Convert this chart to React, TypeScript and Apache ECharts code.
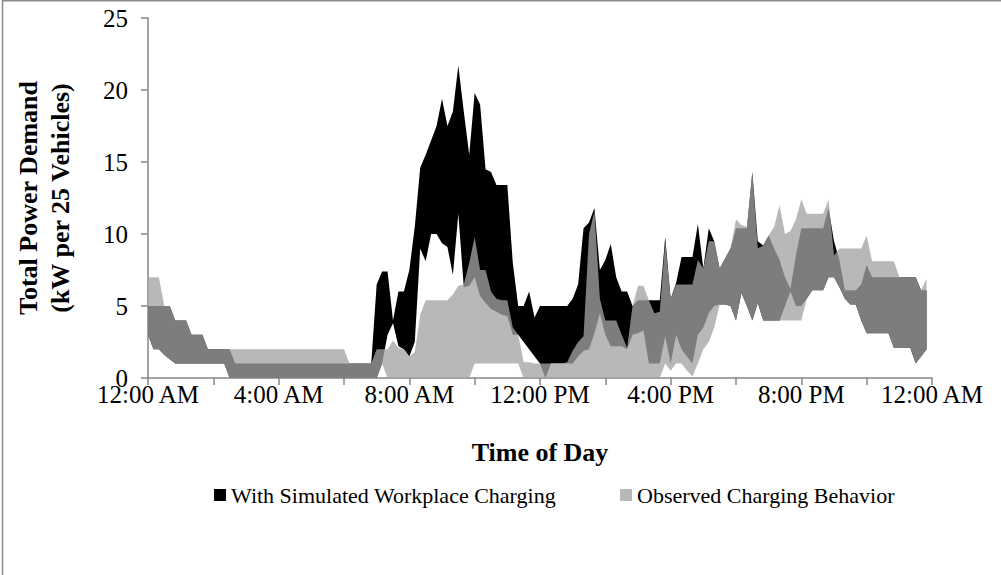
import React, { useEffect, useRef } from "react";
import * as echarts from "echarts";

// 10-minute steps from 12:00 AM to 12:00 AM (145 categories)
const xTickLabels = ["12:00 AM", "4:00 AM", "8:00 AM", "12:00 PM", "4:00 PM", "8:00 PM", "12:00 AM"];

const workLow = [
  3, 2, 2, 1.6, 1.3, 1, 1, 1, 1, 1,
  1, 1, 1, 1, 1, 0, 0, 0, 0, 0,
  0, 0, 0, 0, 0, 0, 0, 0, 0, 0,
  0, 0, 0, 0, 0, 0, 0, 0, 0, 0,
  0, 0, 0, 1, 3.0, 3.8, 2.2, 2.0, 1.5, 2.5,
  9.0, 8.1, 10.0, 10.0, 9.35, 9.1, 7.15, 11.4, 6.3, 6.4,
  7.0, 5.7, 5.2, 4.8, 4.6, 4.4, 4.3, 3.0, 3.0, 2.5,
  2.0, 1.5, 1.0, 0, 1, 1, 1, 1, 1, 1.5,
  1.9, 2.0, 3.1, 4.5, 3.0, 2.2, 2.2, 2.2, 2.0, 3.0,
  3.1, 3.3, 1, 1, 1, 2.9, 1.0, 3.0, 2.0, 1.5,
  1.0, 3.0, 3.5, 4.5, 5.0, 5.1, 5.1, 5.0, 4.0, 5.9,
  5.0, 4.0, 5.2, 4.0, 4.0, 4.0, 4.0, 5.0, 6.0, 5.0,
  5.0, 5.5, 6.1, 6.1, 6.1, 7.0, 7.0, 6.3, 5.5, 5.1,
  5.1, 4.0, 3.1, 3.1, 3.1, 3.1, 3.1, 2.1, 2.1, 2.1,
  2.1, 1.0, 1.5, 2.0,
];

const workHigh = [
  5, 5, 5, 5, 5, 4, 4, 4, 3, 3,
  3, 2, 2, 2, 2, 2, 1, 1, 1, 1,
  1, 1, 1, 1, 1, 1, 1, 1, 1, 1,
  1, 1, 1, 1, 1, 1, 1, 1, 1, 1,
  1, 1, 6.5, 7.4, 7.4, 4.0, 6.0, 6.0, 7.5, 10.5,
  14.6, 15.5, 16.5, 17.5, 19.4, 17.5, 18.5, 21.7, 18.5, 15.5,
  19.8, 19.0, 14.5, 14.3, 13.4, 13.4, 13.4, 8.0, 5.0, 5.0,
  6.0, 4.2, 5.0, 5.0, 5.0, 5.0, 5.0, 5.0, 5.5, 6.5,
  10.4, 10.8, 11.8, 7.5, 8.2, 9.3, 7.0, 6.0, 6.0, 5.0,
  5.4, 5.4, 5.4, 5.4, 5.4, 9.8, 5.5, 6.6, 8.4, 8.4,
  8.4, 10.7, 7.6, 10.4, 9.5, 7.6, 8.3, 9.0, 10.4, 10.4,
  10.4, 14.3, 9.5, 9.2, 9.9, 9.0, 8.2, 7.0, 6.2, 8.5,
  10.4, 10.4, 10.4, 10.4, 10.4, 11.8, 9.5, 8.2, 6.1, 6.1,
  6.1, 6.5, 7.85, 7.0, 7.0, 7.0, 7.0, 7.0, 7.0, 7.0,
  7.0, 7.0, 6.1, 6.1,
];

const obsLow = [
  3, 2, 2, 1.6, 1.3, 1, 1, 1, 1, 1,
  1, 1, 1, 1, 1, 0, 0, 0, 0, 0,
  0, 0, 0, 0, 0, 0, 0, 0, 0, 0,
  0, 0, 0, 0, 0, 0, 0, 0, 0, 0,
  0, 0, 0, 1, 0, 0, 0, 0, 0, 0,
  0, 0, 0, 0, 0, 0, 0, 0, 0, 0,
  1, 1, 1, 1, 1, 1, 1, 1, 1, 0,
  0, 0, 0, 0, 0, 0, 0, 0, 0, 0,
  0, 0, 0, 0, 0, 0, 0, 0, 0, 0,
  0, 0, 0, 0, 0, 1.0, 0.5, 1.0, 1.0, 0.5,
  0.1, 1.0, 2.0, 2.5, 3.5, 5.1, 5.1, 5.0, 4.0, 5.9,
  5.0, 4.0, 5.2, 4.0, 4.0, 4.0, 4.0, 4.0, 4.0, 4.0,
  4.0, 5.5, 6.1, 6.1, 6.1, 7.0, 7.0, 6.3, 5.5, 5.1,
  5.1, 4.0, 3.1, 3.1, 3.1, 3.1, 3.1, 2.1, 2.1, 2.1,
  2.1, 1.0, 1.5, 2.0,
];

const obsHigh = [
  7, 7, 7, 5, 5, 4, 4, 4, 3, 3,
  3, 2, 2, 2, 2, 2, 2, 2, 2, 2,
  2, 2, 2, 2, 2, 2, 2, 2, 2, 2,
  2, 2, 2, 2, 2, 2, 2, 1, 1, 1,
  1, 1, 2, 2, 2, 2.6, 2.1, 2.0, 1.5, 1.8,
  4.4, 5.4, 5.4, 5.4, 5.4, 5.4, 5.8, 6.4, 6.5, 8.0,
  9.8, 7.5, 7.5, 6.0, 5.5, 5.4, 5.4, 3.5, 3.0, 1.1,
  1.1, 1.0, 1.0, 1.0, 1.0, 1.0, 1.0, 1.1, 1.9, 2.5,
  2.9, 10.0, 11.6, 5.5, 4.0, 4.0, 4.0, 3.0, 2.1, 5.0,
  6.4, 6.4, 5.4, 4.5, 4.6, 9.5, 5.5, 6.5, 6.5, 6.5,
  6.5, 8.2, 7.6, 9.5, 9.5, 7.6, 8.3, 9.0, 11.0, 10.6,
  10.5, 14.3, 9.0, 9.2, 9.9, 10.5, 12.0, 10.0, 10.2, 11.0,
  12.4, 11.4, 11.4, 11.4, 11.4, 12.4, 8.5, 9.0, 9.0, 9.0,
  9.0, 9.0, 9.9, 8.1, 8.1, 8.1, 8.1, 8.1, 7.0, 7.0,
  7.0, 7.0, 6.1, 6.9,
];

const seriesNames = ["With Simulated Workplace Charging", "Observed Charging Behavior"];

function timeLabel(step: number): string {
  const mins = step * 10;
  const h24 = Math.floor(mins / 60) % 24;
  const m = mins % 60;
  const ampm = h24 < 12 ? "AM" : "PM";
  const h12 = h24 % 12 === 0 ? 12 : h24 % 12;
  return `${h12}:${m < 10 ? "0" + m : m} ${ampm}`;
}
const categories: string[] = [];
for (let i = 0; i <= 144; i++) categories.push(timeLabel(i));

const FONT = '"Times New Roman", "Liberation Serif", serif';
const AXIS = "#868686";
const OBS_FILL = "rgba(163,163,163,0.77)";

export default function App() {
  const ref = useRef<HTMLDivElement>(null);
  useEffect(() => {
    const chart = echarts.init(ref.current!, null, { renderer: "svg" });
    const wRange = workHigh.map((v, i) => +(v - workLow[i]).toFixed(3));
    const oRange = obsHigh.map((v, i) => +(v - obsLow[i]).toFixed(3));
    const baseCommon = {
      type: "line" as const,
      symbol: "none",
      silent: true,
      lineStyle: { width: 0, opacity: 0 },
      itemStyle: { opacity: 0 },
    };
    chart.setOption({
      animation: false,
      textStyle: { fontFamily: FONT, color: "#000" },
      graphic: [
        {
          type: "rect",
          shape: { x: 2.5, y: 0.75, width: 1200, height: 1200 },
          style: { fill: "none", stroke: "#8c8c8c", lineWidth: 1.5 },
          silent: true,
        },
      ],
      grid: { left: 148, right: 69, top: 18, bottom: 197, containLabel: false },
      legend: {
        data: seriesNames,
        left: 209,
        top: 479,
        icon: "rect",
        itemWidth: 12,
        itemHeight: 12,
        itemGap: 64,
        textStyle: { fontFamily: FONT, fontSize: 22, color: "#000" },
      },
      xAxis: {
        type: "category",
        data: categories,
        boundaryGap: false,
        name: "Time of Day",
        nameLocation: "middle",
        nameGap: 61,
        nameTextStyle: { fontFamily: FONT, fontSize: 26, fontWeight: "bold", color: "#000" },
        axisLine: { lineStyle: { color: AXIS, width: 1.5 } },
        axisTick: { interval: 11, length: 7, lineStyle: { color: AXIS, width: 1.5 } },
        axisLabel: {
          interval: 23,
          margin: 4,
          fontFamily: FONT,
          fontSize: 25,
          color: "#000",
          formatter: (_v: string, idx: number) => xTickLabels[Math.round(idx / 24)],
        },
        splitLine: { show: false },
      },
      yAxis: {
        type: "value",
        min: 0,
        max: 25,
        interval: 5,
        name: "Total Power Demand\n(kW per 25 Vehicles)",
        nameLocation: "middle",
        nameRotate: 90,
        nameGap: 72,
        nameTextStyle: { fontFamily: FONT, fontSize: 26, fontWeight: "bold", color: "#000", lineHeight: 32 },
        axisLine: { show: true, lineStyle: { color: AXIS, width: 1.5 } },
        axisTick: { show: true, length: 7, lineStyle: { color: AXIS, width: 1.5 } },
        axisLabel: { margin: 20, fontFamily: FONT, fontSize: 25, color: "#000" },
        splitLine: { show: false },
      },
      series: [
        { ...baseCommon, name: "wBase", stack: "w", data: workLow },
        {
          type: "line",
          name: seriesNames[0],
          stack: "w",
          data: wRange,
          symbol: "none",
          color: "#000",
          lineStyle: { width: 0 },
          areaStyle: { color: "#000", opacity: 1 },
        },
        { ...baseCommon, name: "oBase", stack: "o", data: obsLow },
        {
          type: "line",
          name: seriesNames[1],
          stack: "o",
          data: oRange,
          symbol: "none",
          color: OBS_FILL,
          lineStyle: { width: 0 },
          areaStyle: { color: OBS_FILL, opacity: 1 },
        },
      ],
    });
    return () => chart.dispose();
  }, []);
  return (
    <div
      ref={ref}
      style={{ position: "absolute", left: 0, top: 0, width: 1001, height: 575 }}
    />
  );
}
